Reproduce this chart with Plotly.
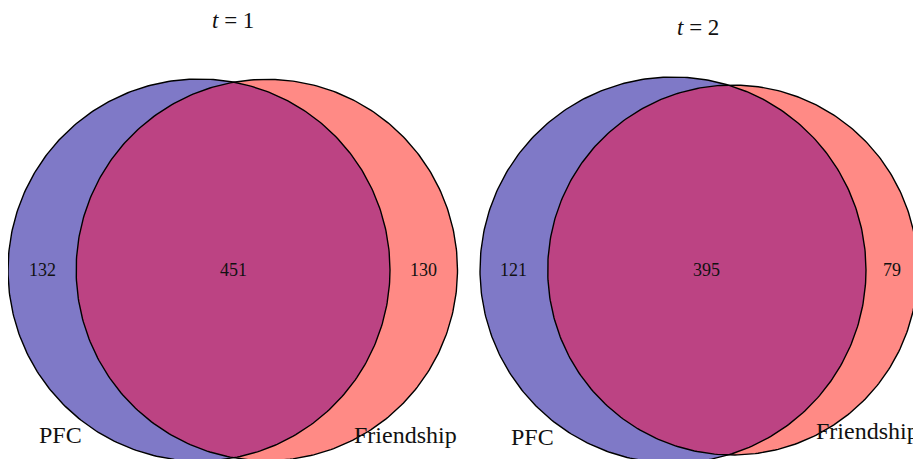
import numpy as np
import plotly.graph_objects as go

# Venn counts per time point: [PFC only, both, Friendship only]
panels = ['t = 1', 't = 2']
set_names = ['PFC', 'Friendship']
pfc_only = [132, 121]
both = [451, 395]
friend_only = [130, 79]

BLUE = '#7F79C7'
RED = '#FF8A85'
PURPLE = '#BC4383'
FONT = 'Liberation Serif, Times New Roman, serif'

W, H = 921, 459
PAD = 8  # page body margin in front of the figure
# pixel placement of each panel: PFC-circle centre and px per unit
anchors = [dict(cx=199, cy=270, k=191 / np.sqrt(583 / np.pi), x0=0, x1=460.5),
           dict(cx=673, cy=270, k=193 / np.sqrt(516 / np.pi), x0=460.5, x1=921)]
title_pos = [(233, 20), (698, 27)]


def lens_area(r1, r2, d):
    if d >= r1 + r2:
        return 0.0
    if d <= abs(r1 - r2):
        return np.pi * min(r1, r2) ** 2
    a1 = r1 ** 2 * np.arccos((d ** 2 + r1 ** 2 - r2 ** 2) / (2 * d * r1))
    a2 = r2 ** 2 * np.arccos((d ** 2 + r2 ** 2 - r1 ** 2) / (2 * d * r2))
    a3 = 0.5 * np.sqrt((-d + r1 + r2) * (d + r1 - r2) * (d - r1 + r2) * (d + r1 + r2))
    return a1 + a2 - a3


def solve_distance(r1, r2, overlap):
    lo, hi = abs(r1 - r2), r1 + r2
    for _ in range(100):
        mid = (lo + hi) / 2
        if lens_area(r1, r2, mid) > overlap:
            lo = mid
        else:
            hi = mid
    return (lo + hi) / 2


def arc(cx, cy, r, t0, t1, n=300):
    t = np.linspace(t0, t1, n)
    return cx + r * np.cos(t), cy + r * np.sin(t)


fig = go.Figure()
annotations = []

for i in range(2):
    xa = 'x' if i == 0 else 'x2'
    ya = 'y' if i == 0 else 'y2'
    n1 = pfc_only[i] + both[i]
    n2 = friend_only[i] + both[i]
    r1 = np.sqrt(n1 / np.pi)
    r2 = np.sqrt(n2 / np.pi)
    d = solve_distance(r1, r2, both[i])

    bx, by = arc(0, 0, r1, 0, 2 * np.pi, 400)
    rx, ry = arc(d, 0, r2, 0, 2 * np.pi, 400)

    a = (d ** 2 + r1 ** 2 - r2 ** 2) / (2 * d)
    h = np.sqrt(r1 ** 2 - a ** 2)
    th1 = np.arctan2(h, a)
    th2 = np.arctan2(h, d - a)
    lx1, ly1 = arc(0, 0, r1, -th1, th1)
    lx2, ly2 = arc(d, 0, r2, np.pi - th2, np.pi + th2)
    lx = np.concatenate([lx1, lx2])
    ly = np.concatenate([ly1, ly2])

    for x, y, c in [(bx, by, BLUE), (rx, ry, RED), (lx, ly, PURPLE)]:
        fig.add_trace(go.Scatter(x=x, y=y, mode='lines', fill='toself',
                                 fillcolor=c, line=dict(width=0),
                                 hoverinfo='skip', showlegend=False,
                                 xaxis=xa, yaxis=ya))
    for x, y in [(bx, by), (rx, ry)]:
        fig.add_trace(go.Scatter(x=x, y=y, mode='lines',
                                 line=dict(color='black', width=1.4),
                                 hoverinfo='skip', showlegend=False,
                                 xaxis=xa, yaxis=ya))

    # region counts
    left_in = d - r2
    right_in = r1
    counts = [pfc_only[i], both[i], friend_only[i]]
    xs = [(-r1 + left_in) / 2, (left_in + right_in) / 2, (right_in + d + r2) / 2]
    for xv, cnt in zip(xs, counts):
        annotations.append(dict(x=xv, y=0, xref=xa, yref=ya, text=str(cnt),
                                showarrow=False, xanchor='center', yanchor='middle',
                                font=dict(family=FONT, size=18, color='#111')))

    # set labels
    A = anchors[i]
    off = 25 / A['k']
    ang = np.deg2rad(40)
    for cx0, rr, sgn, name in [(0, r1, -1, set_names[0]), (d, r2, 1, set_names[1])]:
        annotations.append(dict(x=cx0 + sgn * (rr + off) * np.sin(ang),
                                y=-(rr + off) * np.cos(ang),
                                xref=xa, yref=ya, text=name, showarrow=False,
                                xanchor='center', yanchor='middle',
                                font=dict(family=FONT, size=24, color='#111')))

    # panel title
    tx, ty = title_pos[i]
    annotations.append(dict(x=(tx - PAD) / W, y=1 - (ty - PAD) / H,
                            xref='paper', yref='paper',
                            xanchor='center', yanchor='middle',
                            text='<i>t</i>' + panels[i][1:], showarrow=False,
                            font=dict(family=FONT, size=23, color='#111')))

axis_common = dict(visible=False, showgrid=False, zeroline=False, fixedrange=True)
layout_axes = {}
for i, A in enumerate(anchors):
    k = A['k']
    cx, cy = A['cx'] - PAD, A['cy'] - PAD
    sx = '' if i == 0 else '2'
    layout_axes['xaxis' + sx] = dict(axis_common, domain=[A['x0'] / W, A['x1'] / W],
                                     range=[(A['x0'] - cx) / k, (A['x1'] - cx) / k])
    layout_axes['yaxis' + sx] = dict(axis_common, domain=[0, 1],
                                     range=[-(H - cy) / k, cy / k])

fig.update_layout(
    width=W, height=H,
    margin=dict(l=0, r=0, t=0, b=0),
    plot_bgcolor='white', paper_bgcolor='white',
    annotations=annotations,
    **layout_axes
)

fig.write_html("out.html")
